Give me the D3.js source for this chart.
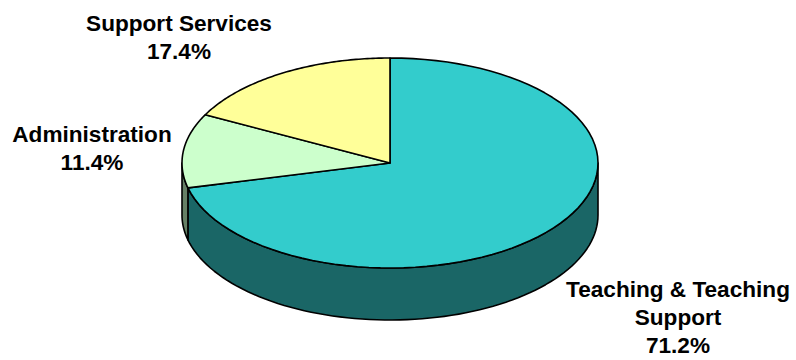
<!DOCTYPE html>
<html><head><meta charset="utf-8">
<script src="https://cdn.jsdelivr.net/npm/d3@7"></script>
<style>body{margin:0;background:#fff}svg{display:block}</style>
</head><body>
<svg id="c" width="796" height="360"></svg>
<script>
const categories = ["Teaching & Teaching Support", "Administration", "Support Services"];
const values = [71.2, 11.4, 17.4];
const labelLines = [["Teaching & Teaching", "Support", "71.2%"], ["Administration", "11.4%"], ["Support Services", "17.4%"]];
const topColors = ["#33CCCC", "#CCFFCC", "#FFFF99"];
const sideColors = ["#1A6666", "#668066", "#808050"];

const W = 796, H = 360;
const cx = 390, cy = 163, rx = 208, ry = 105, depth = 52;
const svg = d3.select("#c");

const pie = d3.pie().sort(null).value(d => d).startAngle(0).endAngle(2 * Math.PI);
const arcs = pie(values);

const px = a => cx + rx * Math.sin(a);
const py = (a, dz = 0) => cy - ry * Math.cos(a) + dz;

function topPath(s, e) {
  const n = 80, pts = [];
  for (let i = 0; i <= n; i++) { const a = s + (e - s) * i / n; pts.push([px(a), py(a)]); }
  return "M" + cx + "," + cy + "L" + pts.map(p => p.join(",")).join("L") + "Z";
}
function sidePath(s, e) {
  const n = 80, top = [], bot = [];
  for (let i = 0; i <= n; i++) { const a = s + (e - s) * i / n; top.push([px(a), py(a)]); bot.push([px(a), py(a, depth)]); }
  return "M" + top.map(p => p.join(",")).join("L") + "L" + bot.reverse().map(p => p.join(",")).join("L") + "Z";
}

// sides (visible front half: PI/2 .. 3PI/2)
arcs.forEach((d, i) => {
  const s = Math.max(d.startAngle, Math.PI / 2), e = Math.min(d.endAngle, 3 * Math.PI / 2);
  if (e > s) {
    svg.append("path").attr("d", sidePath(s, e)).attr("fill", sideColors[i])
      .attr("stroke", "#000").attr("stroke-width", 1.6).attr("stroke-linejoin", "round");
  }
});
// tops
arcs.forEach((d, i) => {
  svg.append("path").attr("d", topPath(d.startAngle, d.endAngle)).attr("fill", topColors[i])
    .attr("stroke", "#000").attr("stroke-width", 1.6).attr("stroke-linejoin", "round");
});

// labels
const labelPos = [[678, 297], [92, 142], [179, 31]];
const lineH = [28, 28, 28];
labelLines.forEach((lines, i) => {
  const t = svg.append("text").attr("text-anchor", "middle")
    .attr("font-family", "Liberation Sans, Arial, sans-serif").attr("font-weight", "bold")
    .attr("font-size", 22.6).attr("fill", "#000");
  lines.forEach((l, j) => t.append("tspan").attr("x", labelPos[i][0]).attr("y", labelPos[i][1] + j * lineH[i]).text(l));
});
</script>
</body></html>
